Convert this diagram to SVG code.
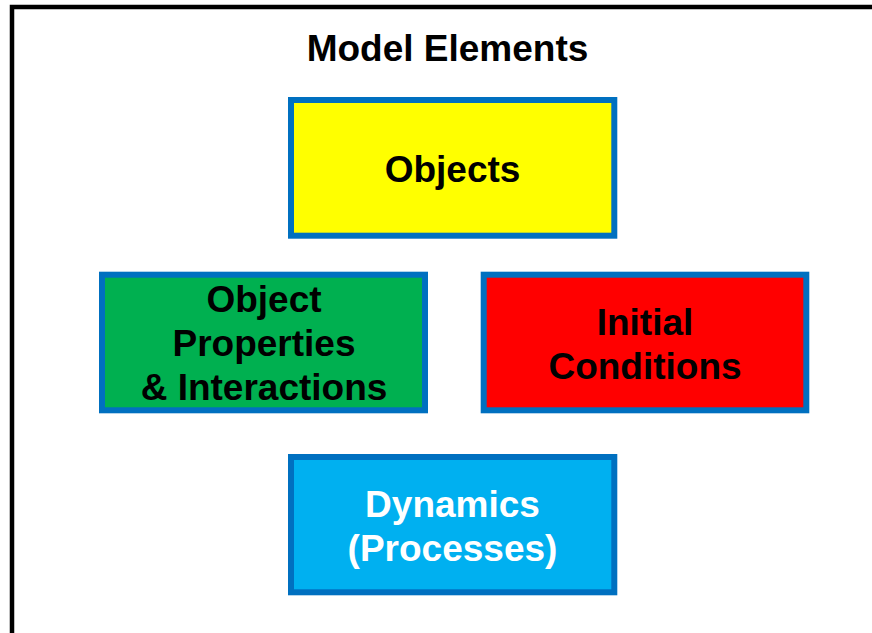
<svg xmlns="http://www.w3.org/2000/svg" width="872" height="633" viewBox="0 0 872 633">
<style>
.box{stroke:#0070C0;stroke-width:6}
.t{font-family:"Liberation Sans",Arial,sans-serif;font-weight:bold;font-size:37px;text-anchor:middle;fill:#000}
.w{fill:#fff}
</style>
<rect width="872" height="633" fill="#fff"/>
<rect x="12" y="7" width="900" height="700" fill="none" stroke="#000" stroke-width="4.5"/>
<text class="t" x="447.5" y="61">Model Elements</text>
<g id="objects">
<rect class="box" x="291" y="100" width="323.3" height="135.7" fill="#FFFF00"/>
<text class="t" x="452.5" y="182">Objects</text>
</g>
<g id="properties">
<rect class="box" x="102" y="274.7" width="323" height="135.6" fill="#00B050"/>
<text class="t" x="264" y="312">Object</text>
<text class="t" x="264" y="356">Properties</text>
<text class="t" x="264" y="399.5">&amp; Interactions</text>
</g>
<g id="initial">
<rect class="box" x="483.7" y="274.7" width="322.6" height="135.6" fill="#FF0000"/>
<text class="t" x="645" y="335">Initial</text>
<text class="t" x="645" y="379">Conditions</text>
</g>
<g id="dynamics">
<rect class="box" x="291" y="457" width="323.3" height="135.3" fill="#00B0F0"/>
<text class="t w" x="452.5" y="516.5">Dynamics</text>
<text class="t w" x="452.5" y="560.5">(Processes)</text>
</g>
<g id="connectors"></g>
</svg>
